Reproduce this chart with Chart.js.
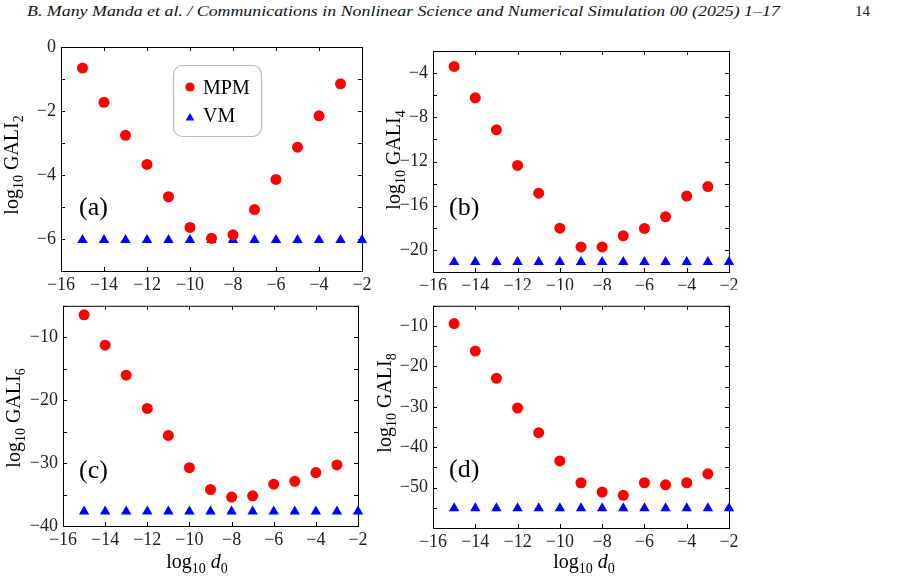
<!DOCTYPE html>
<html>
<head>
<meta charset="utf-8">
<script src="https://cdn.jsdelivr.net/npm/chart.js@4.4.1/dist/chart.umd.min.js"></script>
<style>
  body { margin: 0; background: #fff; width: 897px; height: 582px; position: relative; overflow: hidden; }
  canvas { position: absolute; }
  #head { position: absolute; left: 27px; top: 4px; font: italic 14px 'Liberation Serif', serif; white-space: nowrap; transform-origin: left top; color: #111; }
  #pageNo { position: absolute; left: 855px; top: 3px; font: 15px 'Liberation Serif', serif; color: #111; }
</style>
</head>
<body>
<span id="head">B. Many Manda et al. / Communications in Nonlinear Science and Numerical Simulation 00 (2025) 1–17</span>
<span id="pageNo">14</span>
<canvas id="chartA" width="380" height="260" style="left:0;top:30px"></canvas>
<canvas id="chartB" width="380" height="260" style="left:370px;top:30px"></canvas>
<canvas id="chartC" width="380" height="292" style="left:0;top:290px"></canvas>
<canvas id="chartD" width="380" height="292" style="left:370px;top:290px"></canvas>
<script>
const _ = (id) => document.getElementById(id)

// log10 d0 values
const d0Mpm = [-15, -14, -13, -12, -11, -10, -9, -8, -7, -6, -5, -4, -3]
const d0Vm = [-15, -14, -13, -12, -11, -10, -9, -8, -7, -6, -5, -4, -3, -2]

// (a) log10 GALI2
const mpmA = [-0.66, -1.73, -2.76, -3.67, -4.68, -5.64, -5.98, -5.87, -5.08, -4.14, -3.13, -2.15, -1.15]
const vmA = [-6.03, -6.03, -6.03, -6.03, -6.03, -6.03, -6.03, -6.03, -6.03, -6.03, -6.03, -6.03, -6.03, -6.03]
// (b) log10 GALI4
const mpmB = [-3.4, -6.24, -9.13, -12.36, -14.87, -18.03, -19.73, -19.73, -18.72, -18.06, -17.0, -15.13, -14.27]
const vmB = [-21.1, -21.1, -21.1, -21.1, -21.1, -21.1, -21.1, -21.1, -21.1, -21.1, -21.1, -21.1, -21.1, -21.1]
// (c) log10 GALI6
const mpmC = [-6.44, -11.26, -16.02, -21.31, -25.6, -30.73, -34.2, -35.4, -35.2, -33.35, -32.9, -31.5, -30.3]
const vmC = [-37.7, -37.7, -37.7, -37.7, -37.7, -37.7, -37.7, -37.7, -37.7, -37.7, -37.7, -37.7, -37.7, -37.7]
// (d) log10 GALI8
const mpmD = [-9.4, -16.2, -22.95, -30.3, -36.4, -43.4, -48.8, -51.1, -51.9, -48.8, -49.3, -48.8, -46.6]
const vmD = [-55.1, -55.1, -55.1, -55.1, -55.1, -55.1, -55.1, -55.1, -55.1, -55.1, -55.1, -55.1, -55.1, -55.1]

const xTicks = [-16, -14, -12, -10, -8, -6, -4, -2]

// fit the running head to the journal line width
const head = _('head')
head.style.transform = `scaleX(${753 / head.offsetWidth})`

const FONT = "'Liberation Serif', serif"
const minus = (v) => (v < 0 ? '\u2212' + Math.abs(v) : String(v))
const pts = (xs, ys) => xs.map((x, i) => ({ x, y: ys[i] }))

function drawRuns(ctx, parts, x, y, rotate) {
  ctx.save()
  ctx.translate(x, y)
  if (rotate) ctx.rotate(-Math.PI / 2)
  let w = 0
  parts.forEach((p) => {
    ctx.font = p.font
    w += ctx.measureText(p.t).width
  })
  let cx = -w / 2
  ctx.fillStyle = '#000'
  ctx.textAlign = 'left'
  ctx.textBaseline = 'alphabetic'
  parts.forEach((p) => {
    ctx.font = p.font
    ctx.fillText(p.t, cx, p.dy || 0)
    cx += ctx.measureText(p.t).width
  })
  ctx.restore()
}

function circle(ctx, x, y, r) {
  ctx.beginPath()
  ctx.arc(x, y, r, 0, Math.PI * 2)
  ctx.fill()
}

function triangle(ctx, x, y, r) {
  ctx.beginPath()
  ctx.moveTo(x, y - r)
  ctx.lineTo(x + r * 0.87, y + r * 0.5)
  ctx.lineTo(x - r * 0.87, y + r * 0.5)
  ctx.closePath()
  ctx.fill()
}

const deco = {
  id: 'deco',
  beforeDatasetsDraw(chart) {
    const { ctx, chartArea: a, scales } = chart
    ctx.save()
    ctx.strokeStyle = '#000'
    ctx.lineWidth = 1
    ctx.strokeRect(a.left + 0.5, a.top + 0.5, a.right - a.left, a.bottom - a.top)
    ctx.beginPath()
    scales.x.ticks.forEach((t) => {
      const px = Math.round(scales.x.getPixelForValue(t.value)) + 0.5
      ctx.moveTo(px, a.bottom)
      ctx.lineTo(px, a.bottom - 4)
      ctx.moveTo(px, a.top)
      ctx.lineTo(px, a.top + 4)
    })
    scales.y.ticks.forEach((t) => {
      const py = Math.round(scales.y.getPixelForValue(t.value)) + 0.5
      ctx.moveTo(a.left, py)
      ctx.lineTo(a.left + 4, py)
      ctx.moveTo(a.right, py)
      ctx.lineTo(a.right - 4, py)
    })
    ctx.stroke()
    ctx.restore()
  },
  afterDraw(chart, args, o) {
    const ctx = chart.ctx
    const big = `20px ${FONT}`
    const small = `14px ${FONT}`
    drawRuns(ctx, [
      { t: 'log', font: big },
      { t: '10', font: small, dy: 5 },
      { t: ' GALI', font: big },
      { t: o.sub, font: small, dy: 5 },
    ], o.yTitle[0], o.yTitle[1], true)
    if (o.xTitle) {
      drawRuns(ctx, [
        { t: 'log', font: big },
        { t: '10', font: small, dy: 5 },
        { t: ' ', font: big },
        { t: 'd', font: `italic 20px ${FONT}` },
        { t: '0', font: small, dy: 5 },
      ], o.xTitle[0], o.xTitle[1], false)
    }
    ctx.save()
    ctx.fillStyle = '#000'
    ctx.font = `26px ${FONT}`
    ctx.textBaseline = 'middle'
    ctx.fillText(o.tag, o.tagPos[0], o.tagPos[1])
    ctx.restore()
    if (o.legend) {
      ctx.save()
      ctx.strokeStyle = '#c8b6b6'
      ctx.lineWidth = 1.2
      ctx.beginPath()
      ctx.roundRect(173.5, 35.5, 88, 71, 9)
      ctx.stroke()
      ctx.fillStyle = '#ff0000'
      circle(ctx, 190, 57, 4.6)
      ctx.fillStyle = '#0000ff'
      triangle(ctx, 190, 88, 5)
      ctx.fillStyle = '#000'
      ctx.font = `20px ${FONT}`
      ctx.fillText('MPM', 203, 64)
      ctx.fillText('VM', 203, 92)
      ctx.restore()
    }
  },
}

function makePanel(el, cfg) {
  return new Chart(el, {
    type: 'scatter',
    data: {
      datasets: [
        {
          label: 'MPM',
          data: pts(d0Mpm, cfg.mpm),
          pointStyle: 'circle',
          pointRadius: 5.5,
          pointBorderWidth: 0,
          backgroundColor: '#ff0000',
          borderColor: '#ff0000',
          clip: false,
        },
        {
          label: 'VM',
          data: pts(d0Vm, cfg.vm),
          pointStyle: 'triangle',
          pointRadius: 6,
          pointBorderWidth: 0,
          backgroundColor: '#0000ff',
          borderColor: '#0000ff',
          clip: false,
        },
      ],
    },
    options: {
      responsive: false,
      animation: false,
      devicePixelRatio: 1,
      layout: { padding: { left: 0, top: cfg.top, right: cfg.right, bottom: 0 } },
      plugins: {
        legend: { display: false },
        tooltip: { enabled: false },
        deco: cfg.deco,
      },
      scales: {
        x: {
          type: 'linear',
          min: -16,
          max: -2,
          afterBuildTicks: (s) => { s.ticks = xTicks.map((v) => ({ value: v })) },
          afterFit: (s) => { s.height = cfg.xh },
          grid: { display: false, drawTicks: false },
          border: { display: false },
          ticks: {
            autoSkip: false,
            maxRotation: 0,
            padding: 3,
            color: '#222',
            font: { family: FONT, size: 18 },
            callback: (v) => minus(v),
          },
        },
        y: {
          type: 'linear',
          min: cfg.ymin,
          max: cfg.ymax,
          afterBuildTicks: (s) => { s.ticks = cfg.yTicks.map((v) => ({ value: v })) },
          afterFit: (s) => { s.width = cfg.yw },
          grid: { display: false, drawTicks: false },
          border: { display: false },
          ticks: {
            autoSkip: false,
            padding: 5,
            color: '#222',
            font: { family: FONT, size: 18 },
            callback: (v) => (cfg.yLabels.includes(v) ? minus(v) : ''),
          },
        },
      },
    },
    plugins: [deco],
  })
}

makePanel(_('chartA'), {
  mpm: mpmA, vm: vmA,
  ymin: -7, ymax: 0,
  yTicks: [-7, -6, -5, -4, -3, -2, -1, 0],
  yLabels: [-6, -4, -2, 0],
  top: 17, right: 18, xh: 19, yw: 61,
  deco: { sub: '2', yTitle: [18, 135], tag: '(a)', tagPos: [79, 178], legend: true },
})

makePanel(_('chartB'), {
  mpm: mpmB, vm: vmB,
  ymin: -22, ymax: -2,
  yTicks: [-22, -20, -18, -16, -14, -12, -10, -8, -6, -4, -2],
  yLabels: [-20, -16, -12, -8, -4],
  top: 21, right: 21, xh: 18, yw: 63,
  deco: { sub: '4', yTitle: [30, 130], tag: '(b)', tagPos: [79, 178] },
})

makePanel(_('chartC'), {
  mpm: mpmC, vm: vmC,
  ymin: -40, ymax: -5,
  yTicks: [-40, -35, -30, -25, -20, -15, -10, -5],
  yLabels: [-40, -30, -20, -10],
  top: 13, right: 22, xh: 56, yw: 63,
  deco: { sub: '6', yTitle: [20, 128], xTitle: [197, 278], tag: '(c)', tagPos: [79, 181] },
})

makePanel(_('chartD'), {
  mpm: mpmD, vm: vmD,
  ymin: -60, ymax: -5,
  yTicks: [-60, -55, -50, -45, -40, -35, -30, -25, -20, -15, -10, -5],
  yLabels: [-50, -40, -30, -20, -10],
  top: 15, right: 21, xh: 54, yw: 63,
  deco: { sub: '8', yTitle: [21, 113], xTitle: [214, 278], tag: '(d)', tagPos: [79, 180] },
})
</script>
</body>
</html>
